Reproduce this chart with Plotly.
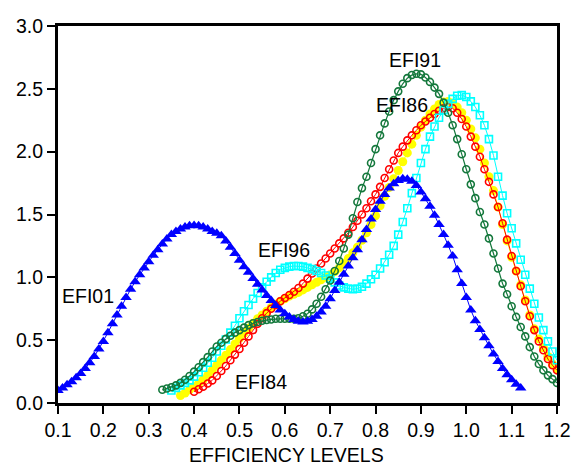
import numpy as np
import plotly.graph_objects as go

# ---- data (kernel density curves, x step 0.01) ----
efi01_x0, efi01_x1 = 0.10, 1.12
efi01 = [0.10, 0.12, 0.145, 0.17, 0.20, 0.235, 0.275, 0.32, 0.37, 0.43,
         0.49, 0.56, 0.63, 0.70, 0.77, 0.84, 0.905, 0.965, 1.02, 1.075,
         1.125, 1.175, 1.22, 1.265, 1.305, 1.34, 1.365, 1.385, 1.40, 1.41,
         1.412, 1.41, 1.40, 1.385, 1.365, 1.35, 1.33, 1.29, 1.24, 1.19,
         1.135, 1.085, 1.04, 0.99, 0.945, 0.90, 0.855, 0.815, 0.775, 0.74,
         0.71, 0.685, 0.665, 0.65, 0.645, 0.65, 0.665, 0.69, 0.725, 0.77,
         0.83, 0.895, 0.96, 1.025, 1.09, 1.155, 1.22, 1.30, 1.38, 1.465,
         1.54, 1.605, 1.66, 1.71, 1.745, 1.77, 1.785, 1.78, 1.765, 1.73,
         1.68, 1.625, 1.565, 1.495, 1.42, 1.34, 1.255, 1.17, 1.06, 0.95,
         0.84, 0.74, 0.655, 0.585, 0.52, 0.455, 0.39, 0.33, 0.275, 0.225,
         0.185, 0.15, 0.12]

efi84_x0, efi84_x1 = 0.40, 1.20
efi84 = [0.09, 0.11, 0.13, 0.155, 0.18, 0.215, 0.255, 0.295, 0.34, 0.385,
         0.43, 0.48, 0.53, 0.58, 0.63, 0.675, 0.715, 0.75, 0.78, 0.81,
         0.835, 0.86, 0.885, 0.915, 0.95, 0.99, 1.03, 1.07, 1.11, 1.15,
         1.19, 1.23, 1.27, 1.31, 1.355, 1.40, 1.45, 1.50, 1.55, 1.605,
         1.66, 1.72, 1.79, 1.86, 1.93, 1.99, 2.04, 2.09, 2.13, 2.17,
         2.21, 2.24, 2.27, 2.30, 2.325, 2.345, 2.355, 2.345, 2.31, 2.26,
         2.20, 2.12, 2.04, 1.96, 1.86, 1.76, 1.66, 1.56, 1.43, 1.30,
         1.17, 1.05, 0.93, 0.81, 0.69, 0.58, 0.49, 0.42, 0.35, 0.30,
         0.26]

efi86_x0, efi86_x1 = 0.37, 1.20
efi86 = [0.06, 0.08, 0.105, 0.13, 0.155, 0.185, 0.22, 0.26, 0.30, 0.34,
         0.38, 0.425, 0.47, 0.515, 0.555, 0.595, 0.635, 0.67, 0.70, 0.73,
         0.76, 0.785, 0.81, 0.83, 0.85, 0.865, 0.88, 0.90, 0.92, 0.94,
         0.96, 0.98, 1.00, 1.02, 1.045, 1.075, 1.11, 1.15, 1.195, 1.24,
         1.295, 1.355, 1.42, 1.49, 1.57, 1.645, 1.715, 1.785, 1.85, 1.92,
         1.99, 2.06, 2.13, 2.195, 2.25, 2.30, 2.34, 2.375, 2.395, 2.40,
         2.385, 2.355, 2.31, 2.25, 2.18, 2.11, 2.02, 1.91, 1.80, 1.69,
         1.56, 1.42, 1.29, 1.16, 1.05, 0.94, 0.82, 0.70, 0.59, 0.51,
         0.44, 0.37, 0.31, 0.27]

efi91_x0, efi91_x1 = 0.33, 1.20
efi91 = [0.105, 0.115, 0.125, 0.14, 0.16, 0.185, 0.215, 0.25, 0.285, 0.325,
         0.365, 0.41, 0.45, 0.48, 0.51, 0.535, 0.56, 0.58, 0.60, 0.62,
         0.635, 0.645, 0.655, 0.66, 0.665, 0.67, 0.67, 0.67, 0.67, 0.67,
         0.675, 0.69, 0.71, 0.745, 0.79, 0.845, 0.905, 0.975, 1.05, 1.13,
         1.23, 1.34, 1.47, 1.60, 1.71, 1.80, 1.91, 2.02, 2.13, 2.225,
         2.32, 2.41, 2.48, 2.54, 2.585, 2.61, 2.62, 2.615, 2.59, 2.555,
         2.51, 2.46, 2.39, 2.31, 2.21, 2.10, 1.98, 1.86, 1.74, 1.63,
         1.52, 1.42, 1.31, 1.19, 1.07, 0.95, 0.865, 0.77, 0.685, 0.605,
         0.53, 0.445, 0.37, 0.31, 0.26, 0.22, 0.19, 0.16]

efi96_x0, efi96_x1 = 0.35, 1.20
efi96 = [0.10, 0.12, 0.14, 0.16, 0.18, 0.21, 0.245, 0.28, 0.32, 0.36,
         0.41, 0.455, 0.505, 0.56, 0.615, 0.675, 0.73, 0.78, 0.83, 0.875,
         0.92, 0.965, 1.00, 1.035, 1.06, 1.075, 1.085, 1.09, 1.09, 1.085,
         1.075, 1.065, 1.05, 1.035, 1.015, 0.99, 0.96, 0.935, 0.92, 0.91,
         0.905, 0.91, 0.925, 0.95, 0.985, 1.02, 1.07, 1.12, 1.18, 1.25,
         1.34, 1.44, 1.55, 1.67, 1.79, 1.91, 2.02, 2.12, 2.20, 2.27,
         2.33, 2.38, 2.42, 2.445, 2.45, 2.435, 2.40, 2.355, 2.29, 2.21,
         2.10, 1.97, 1.80, 1.65, 1.51, 1.39, 1.27, 1.14, 1.02, 0.91,
         0.79, 0.68, 0.58, 0.49, 0.41, 0.34]

# labels placed on the chart
label_text = ["EFI01", "EFI84", "EFI96", "EFI86", "EFI91"]
label_x = [0.166, 0.547, 0.598, 0.858, 0.887]
label_y = [0.85, 0.17, 1.215, 2.37, 2.73]

x_ticks = [0.1, 0.2, 0.3, 0.4, 0.5, 0.6, 0.7, 0.8, 0.9, 1.0, 1.1, 1.2]
y_ticks = [0.0, 0.5, 1.0, 1.5, 2.0, 2.5, 3.0]
x_title = "EFFICIENCY LEVELS"


def grid(x0, x1, ys):
    return np.linspace(x0, x1, len(ys))


FONT = "Arial, Liberation Sans, sans-serif"
GREEN = "#14783C"

fig = go.Figure()

fig.add_trace(go.Scatter(
    x=grid(efi86_x0, efi86_x1, efi86), y=efi86, mode="lines+markers",
    line=dict(color="#FFFF00", width=1),
    marker=dict(symbol="circle", size=9, color="#FFFF00"), name="EFI86"))
fig.add_trace(go.Scatter(
    x=grid(efi84_x0, efi84_x1, efi84), y=efi84, mode="lines+markers",
    line=dict(color="#FF0000", width=1),
    marker=dict(symbol="circle-open", size=7, color="#FF0000",
                line=dict(width=1.6)), name="EFI84"))
fig.add_trace(go.Scatter(
    x=grid(efi96_x0, efi96_x1, efi96), y=efi96, mode="lines+markers",
    line=dict(color="#00FFFF", width=1),
    marker=dict(symbol="square-open", size=7, color="#00FFFF",
                line=dict(width=1.6)), name="EFI96"))
fig.add_trace(go.Scatter(
    x=grid(efi91_x0, efi91_x1, efi91), y=efi91, mode="lines+markers",
    line=dict(color=GREEN, width=1.2),
    marker=dict(symbol="circle-open", size=7, color=GREEN,
                line=dict(width=1.6)), name="EFI91"))
fig.add_trace(go.Scatter(
    x=grid(efi01_x0, efi01_x1, efi01), y=efi01, mode="lines+markers",
    line=dict(color="#0000FF", width=1),
    marker=dict(symbol="triangle-up", size=10, color="#0000FF"), name="EFI01"))

for t, lx, ly in zip(label_text, label_x, label_y):
    fig.add_annotation(x=lx, y=ly, text=t, showarrow=False,
                       xanchor="center", yanchor="middle",
                       font=dict(family=FONT, size=19.5, color="black"))

fig.add_annotation(x=0.457, y=-0.138, xref="paper", yref="paper",
                   text=x_title, showarrow=False, xanchor="center",
                   yanchor="middle",
                   font=dict(family=FONT, size=19.5, color="black"))

axis_common = dict(showline=True, linecolor="black", linewidth=3,
                   mirror=True, ticks="outside", ticklen=8, tickwidth=2,
                   tickcolor="black", showgrid=False, zeroline=False,
                   automargin=False,
                   tickfont=dict(family=FONT, size=19.5, color="black"))

fig.update_xaxes(range=[0.1, 1.2], tickvals=x_ticks,
                 ticktext=[f"{v:.1f}" for v in x_ticks], **axis_common)
fig.update_yaxes(range=[0.0, 3.0], tickvals=y_ticks,
                 ticktext=[f"{v:.1f}" for v in y_ticks], **axis_common)

fig.update_layout(width=572, height=467, autosize=False, showlegend=False,
                  margin=dict(l=58, r=15, t=26, b=64),
                  paper_bgcolor="white", plot_bgcolor="white")

fig.write_html(
    "out.html",
    config={"displayModeBar": False, "responsive": False},
    post_script=(
        "document.documentElement.style.margin='0';"
        "document.documentElement.style.overflow='hidden';"
        "document.body.style.margin='0';"
        "document.body.style.padding='0';"
        "document.body.style.overflow='hidden';"
        "var gd=document.getElementById('{plot_id}');"
        "Plotly.relayout(gd,{width:572,height:467});"
    ),
)
